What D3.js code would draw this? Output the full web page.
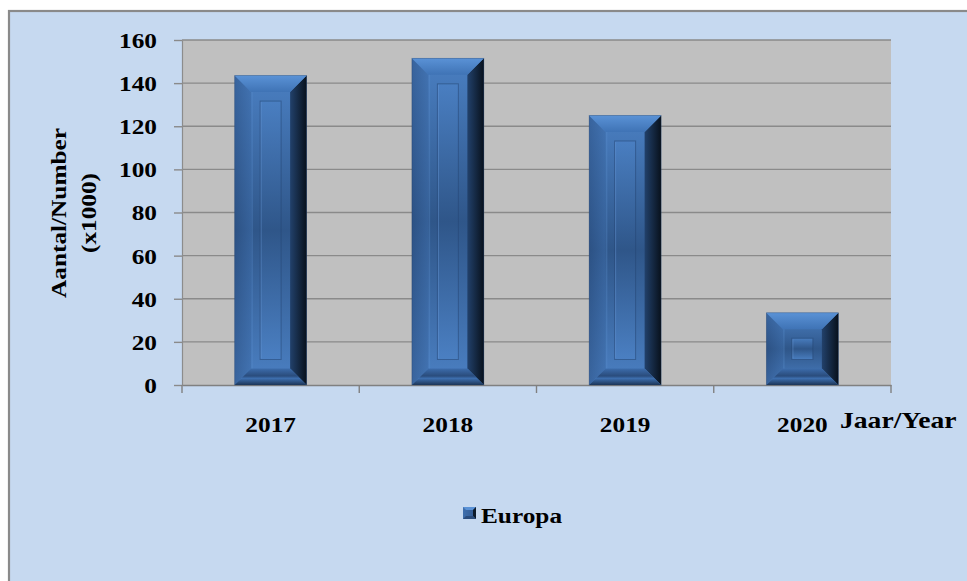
<!DOCTYPE html>
<html>
<head>
<meta charset="utf-8">
<script src="https://cdn.jsdelivr.net/npm/d3@7"></script>
<style>
  html, body { margin: 0; padding: 0; background: #ffffff; }
  svg { display: block; }
  text { font-family: "Liberation Serif", "Times New Roman", serif; font-weight: bold; fill: #000; }
</style>
</head>
<body>
<svg id="chart" width="967" height="581"></svg>
<script>
// ---- data ----
const categories = ["2017", "2018", "2019", "2020"];
const seriesName = "Europa";
const values = [143.5, 151.5, 125, 33.5];
const yTicks = [0, 20, 40, 60, 80, 100, 120, 140, 160];
const yTitleLines = ["Aantal/Number", "(x1000)"];
const xTitle = "Jaar/Year";

// ---- layout ----
const W = 967, H = 581;
const plot = { left: 182, right: 891, top: 40, bottom: 385 };
const SX = 1.15; // horizontal stretch of the text, as in the reference

const svg = d3.select("#chart");
const defs = svg.append("defs");

function grad(id, vertical, stops) {
  const g = defs.append("linearGradient").attr("id", id)
    .attr("x1", 0).attr("y1", 0).attr("x2", vertical ? 0 : 1).attr("y2", vertical ? 1 : 0);
  stops.forEach(([o, c]) => g.append("stop").attr("offset", o).attr("stop-color", c));
}
grad("face", true, [["0%", "#4a7fc2"], ["50%", "#2f5689"], ["100%", "#4b80c3"]]);
grad("topBev", true, [["0%", "#5a92d6"], ["100%", "#3f73b5"]]);
grad("leftBev", false, [["0%", "#2a4e80"], ["100%", "#3c6aa6"]]);
grad("rightBev", false, [["0%", "#22416b"], ["100%", "#08111c"]]);
grad("botBev", true, [["0%", "#3c6cab"], ["45%", "#2a4c7c"], ["60%", "#3d6eae"], ["100%", "#1d3658"]]);
grad("inner", false, [["0%", "#3f6fad"], ["100%", "#31588f"]]);

// outer chart area
svg.append("rect").attr("x", 9).attr("y", 11).attr("width", W + 20).attr("height", H + 20)
  .attr("fill", "#c6d9f0").attr("stroke", "#8a8a8a").attr("stroke-width", 2.2);

// plot area
svg.append("rect").attr("x", plot.left).attr("y", plot.top)
  .attr("width", plot.right - plot.left).attr("height", plot.bottom - plot.top)
  .attr("fill", "#c0c0c0");

// scales
const x = d3.scaleBand().domain(categories).range([plot.left, plot.right]).padding(0);
const y = d3.scaleLinear().domain([0, 160]).range([plot.bottom, plot.top]);

// gridlines
svg.append("g").selectAll("line").data(yTicks.filter(d => d > 0)).join("line")
  .attr("x1", plot.left).attr("x2", plot.right)
  .attr("y1", d => y(d)).attr("y2", d => y(d))
  .attr("stroke", "#8a8a8a").attr("stroke-width", 1.4);

// y axis
const yAxis = svg.append("g").attr("transform", `translate(${plot.left},0)`)
  .call(d3.axisLeft(y).tickValues(yTicks).tickSize(8).tickSizeOuter(0));
yAxis.select(".domain").attr("stroke", "#8c8c8c").attr("stroke-width", 1.2);
yAxis.selectAll(".tick line").attr("stroke", "#8a8a8a").attr("stroke-width", 1.4);
yAxis.selectAll(".tick text")
  .attr("x", -25 / SX).attr("dy", "0.34em")
  .attr("transform", `scale(${SX},1)`)
  .style("font-size", "22px").style("font-family", "'Liberation Serif', serif").style("font-weight", "bold")
  .attr("fill", "#000");

// x axis
const xAxis = svg.append("g").attr("transform", `translate(0,${plot.bottom})`)
  .call(d3.axisBottom(x).tickSize(0).tickSizeOuter(0));
xAxis.select(".domain").attr("stroke", "#808080").attr("stroke-width", 1.4);
xAxis.selectAll(".tick text")
  .attr("y", 47).attr("dy", 0)
  .attr("transform", `scale(${SX},1)`)
  .attr("x", 0)
  .style("font-size", "22px").style("font-family", "'Liberation Serif', serif").style("font-weight", "bold")
  .attr("fill", "#000");
// fix position of stretched labels: move tick group so scale keeps center
xAxis.selectAll(".tick").each(function(d) {
  const cx = x(d) + x.bandwidth() / 2;
  d3.select(this).attr("transform", `translate(${cx},0)`);
});
// boundary ticks (category separators)
const bounds = categories.map(c => x(c)).concat([x.range()[1]]);
xAxis.append("g").selectAll("line").data(bounds).join("line")
  .attr("x1", d => d).attr("x2", d => d).attr("y1", 0).attr("y2", 8)
  .attr("stroke", "#808080").attr("stroke-width", 1.4);

// bars with bevel
const barFrac = 0.406;
const barsG = svg.append("g");
categories.forEach((c, i) => {
  const bw = x.bandwidth() * barFrac;
  const x0 = x(c) + (x.bandwidth() - bw) / 2, x1 = x0 + bw;
  const y0 = y(values[i]), y1 = y(0);
  const h = y1 - y0;
  const b = Math.min(16.5, h / 4, bw / 4);
  const g = barsG.append("g");
  g.append("rect").attr("x", x0).attr("y", y0).attr("width", bw).attr("height", h).attr("fill", "url(#face)");
  const poly = (pts, fill, op) => g.append("polygon")
    .attr("points", pts.map(p => p.join(",")).join(" ")).attr("fill", fill).attr("opacity", op || 1);
  poly([[x0, y0], [x0 + b, y0 + b], [x0 + b, y1 - b], [x0, y1]], "url(#leftBev)", 0.55);
  poly([[x1, y0], [x1, y1], [x1 - b, y1 - b], [x1 - b, y0 + b]], "url(#rightBev)");
  poly([[x0, y1], [x0 + b, y1 - b], [x1 - b, y1 - b], [x1, y1]], "url(#botBev)");
  poly([[x0, y0], [x1, y0], [x1 - b, y0 + b], [x0 + b, y0 + b]], "url(#topBev)");
  // frame lines
  g.append("line").attr("x1", x0 + b + 1).attr("x2", x0 + b + 1).attr("y1", y0 + b).attr("y2", y1 - b)
    .attr("stroke", "#5a8ccc").attr("stroke-opacity", 0.35).attr("stroke-width", 1.5);
  // inner panel
  const ins = b + 9;
  if (bw - 2 * ins > 4 && h - 2 * ins > 4) {
    g.append("rect").attr("x", x0 + ins).attr("y", y0 + ins)
      .attr("width", bw - 2 * ins).attr("height", h - 2 * ins)
      .attr("fill", "url(#face)").attr("fill-opacity", 0.9)
      .attr("stroke", "#244573").attr("stroke-opacity", 0.55).attr("stroke-width", 1);
    g.append("line").attr("x1", x0 + ins + 1).attr("x2", x0 + ins + 1)
      .attr("y1", y0 + ins + 1).attr("y2", y1 - ins - 1)
      .attr("stroke", "#6a9ad6").attr("stroke-opacity", 0.45);
  }
  g.append("rect").attr("x", x0).attr("y", y0).attr("width", bw).attr("height", h)
    .attr("fill", "none").attr("stroke", "#1f3a5f").attr("stroke-opacity", 0.35).attr("stroke-width", 0.8);
});

// y axis title
yTitleLines.forEach((t, i) => {
  svg.append("text")
    .attr("transform", `translate(${i === 0 ? 66 : 96},213) rotate(-90) scale(${SX},1)`)
    .attr("text-anchor", "middle")
    .style("font-size", "22px")
    .text(t);
});

// x axis title
svg.append("text")
  .attr("transform", `translate(840,428) scale(${SX},1)`)
  .attr("text-anchor", "start")
  .style("font-size", "24px")
  .text(xTitle);

// legend
const lg = svg.append("g");
lg.append("rect").attr("x", 463).attr("y", 507).attr("width", 13).attr("height", 12).attr("fill", "url(#inner)");
lg.append("polygon").attr("points", "463,507 476,507 473,510 466,510").attr("fill", "#5a92d6");
lg.append("polygon").attr("points", "476,507 476,519 473,516 473,510").attr("fill", "#0d1a2a");
lg.append("polygon").attr("points", "463,519 476,519 473,516 466,516").attr("fill", "#2a4c7c");
lg.append("text")
  .attr("transform", `translate(481,523) scale(${SX},1)`)
  .style("font-size", "22px")
  .text(seriesName);
</script>
</body>
</html>
